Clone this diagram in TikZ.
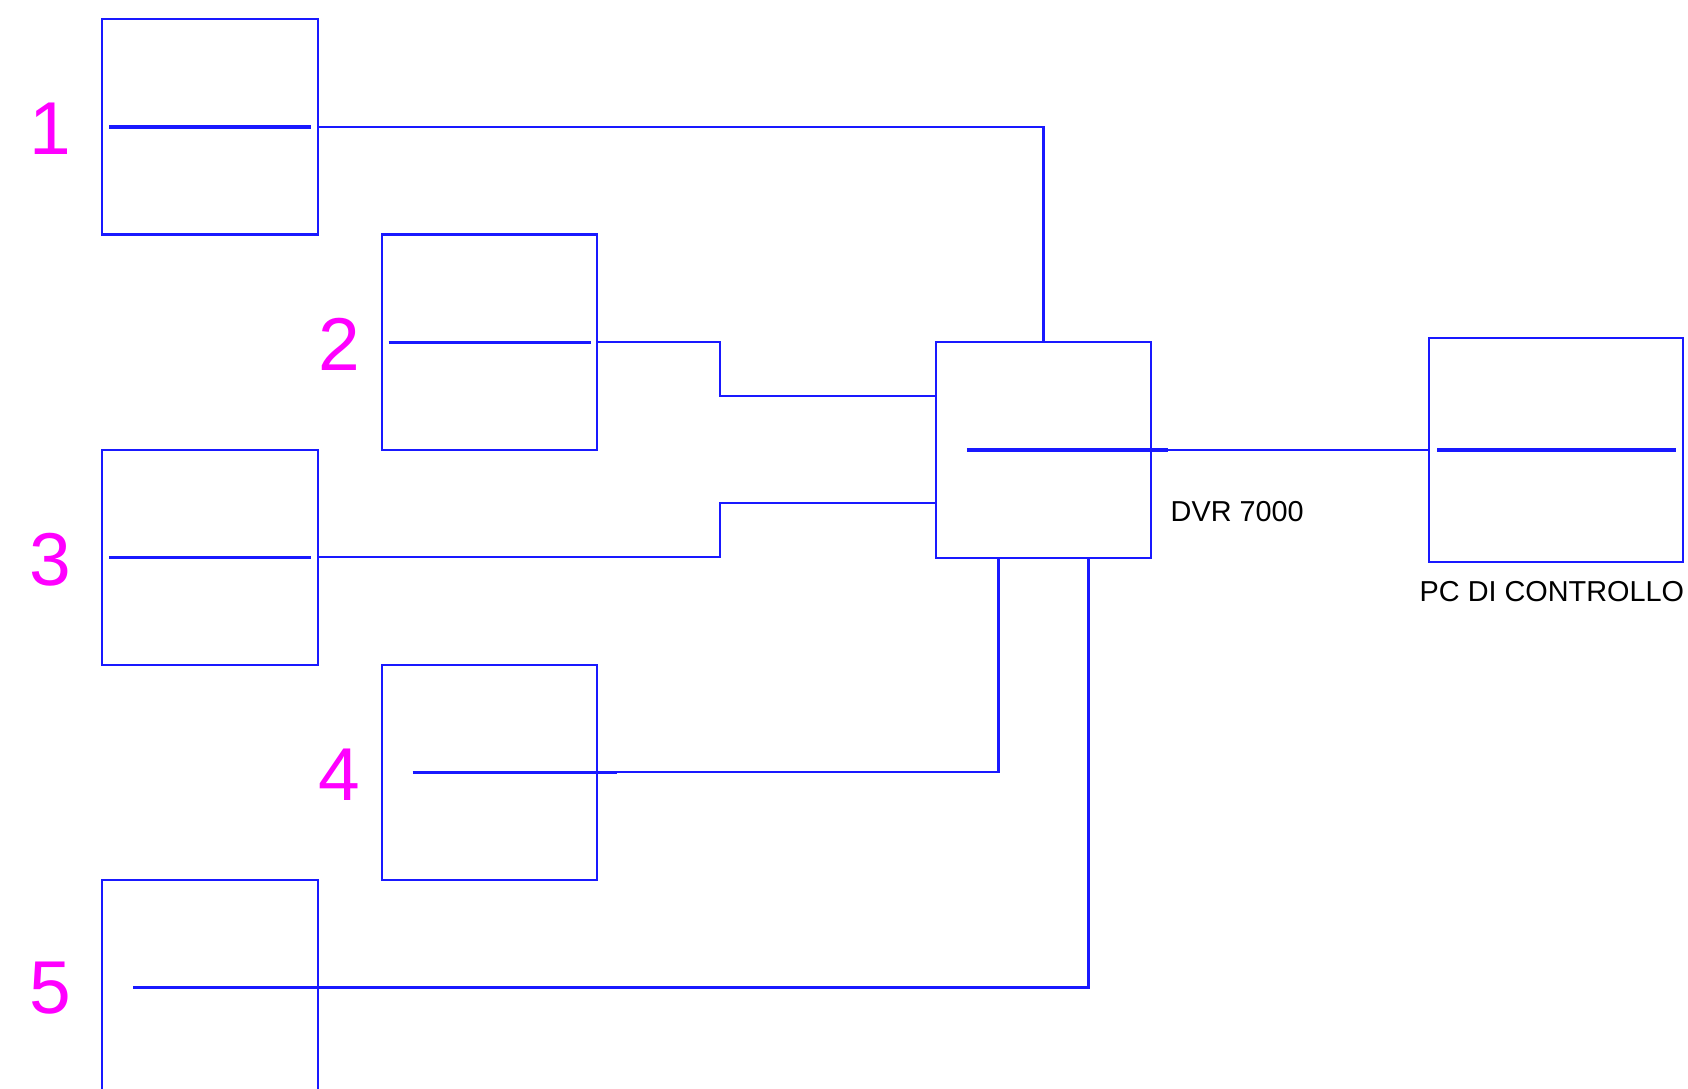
\documentclass[tikz,border=0pt]{standalone}
\usepackage{fontspec}
\setmainfont{Liberation Sans}
\usetikzlibrary{positioning, calc}

\definecolor{wire}{RGB}{25,25,255}
\definecolor{tag}{RGB}{255,0,255}

\begin{document}
\begin{tikzpicture}[x=0.01cm, y=-0.01cm]
    \tikzstyle{unit} = [draw=wire, rectangle, line width=0.6pt, inner sep=0, outer sep=0, minimum width=2.15cm, minimum height=2.15cm];
    \tikzstyle{cable} = [draw=wire, line width=0.6pt];
    \tikzstyle{trace} = [draw=wire, line width=0.9pt];
    \tikzstyle{num} = [text=tag, inner sep=0, font=\fontsize{21.3}{24}\selectfont];
    \tikzstyle{caption} = [inner sep=0, anchor=west, font=\fontsize{8.2}{10}\selectfont];

    \useasboundingbox (0,0) rectangle (1688,1089);

    \node[unit] (cam1) at (210, 127) {};
    \node[unit, below right = 0 and 0.64cm of cam1] (cam2) {};
    \node[unit, below left = 0 and 0.64cm of cam2] (cam3) {};
    \node[unit, below right = 0 and 0.64cm of cam3] (cam4) {};
    \node[unit, below left = 0 and 0.64cm of cam4] (cam5) {};

    \node[unit] (dvr) at (1043.5, 450) {};
    \node[unit, right = 2.78cm of dvr, minimum width=2.54cm, minimum height=2.24cm] (pc) {};

    \node[num] (lab1) at (50, 129) {1};
    \node[num] (lab2) at (339, 344) {2};
    \node[num] (lab3) at (50, 560) {3};
    \node[num] (lab4) at (339, 775) {4};
    \node[num] (lab5) at (50, 988) {5};

    \node[caption] (dvrname) at (1170, 512) {DVR 7000};
    \node[caption] (pcname) at (1419, 592) {PC DI CONTROLLO};

    % lines across the units
    \foreach \n/\a/\b in {cam1/7/-7, cam2/7/-6, cam3/7/-7, cam4/31/20, cam5/31/19, dvr/31/17, pc/8/-7}
        \draw[trace] ($(\n.west)+(\a,0)$) -- ($(\n.east)+(\b,0)$);

    \draw[cable] (cam1.east) -| (dvr.north);
    \draw[cable] (cam2.east) -- ++(123,0) |- ($(dvr.west)+(0,-54)$);
    \draw[cable] (cam3.east) -- ++(402,0) |- ($(dvr.west)+(0,53)$);
    \draw[cable] (cam4.east) -| ($(dvr.south)+(-45,0)$);
    \draw[cable] (cam5.east) -| ($(dvr.south)+(45,0)$);

    \draw[cable] (dvr.east) -- (pc.west);
\end{tikzpicture}
\end{document}
